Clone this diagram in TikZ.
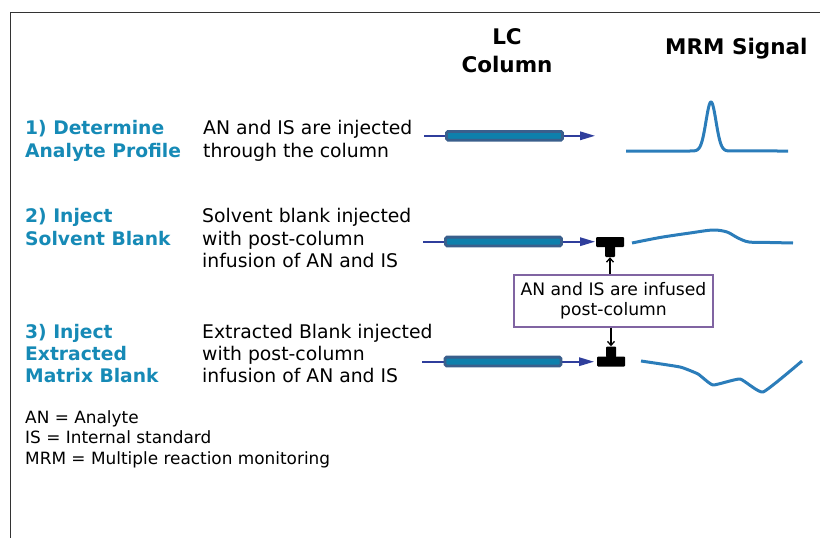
\documentclass[tikz,border=0pt]{standalone}
\usepackage{fontspec}
\setmainfont{DejaVu Sans}
\usetikzlibrary{arrows.meta}
\definecolor{headblue}{HTML}{168AB6}
\definecolor{sigblue}{HTML}{2B7DBA}
\definecolor{colouter}{HTML}{3A5F8C}
\definecolor{colinner}{HTML}{0E80AC}
\definecolor{flowblue}{HTML}{2F3E9C}
\definecolor{boxpurple}{HTML}{8064A2}
\definecolor{framegray}{HTML}{333333}
\tikzset{
  heading/.style={anchor=base west, inner sep=0pt, align=left, text=headblue,
    font=\fontsize{18.7}{22.2}\selectfont\bfseries},
  desc/.style={anchor=base west, inner sep=0pt, align=left, text=black,
    font=\fontsize{18.8}{22.2}\selectfont},
  legend/.style={anchor=base west, inner sep=0pt, align=left, text=black,
    font=\fontsize{16.9}{20.5}\selectfont},
  colhead/.style={anchor=base, inner sep=0pt, align=center,
    font=\fontsize{21.5}{27.7}\selectfont\bfseries},
  lccol/.style={draw=colouter, fill=colinner, line width=2.8pt, rounded corners=1.5pt,
    minimum width=116pt, minimum height=8.8pt, inner sep=0pt},
  flow/.style={draw=flowblue, line width=1.7pt, -{Triangle[length=15pt,width=8.5pt]}},
  tpart/.style={fill=black, rounded corners=1pt, inner sep=0pt},
  infuse/.style={draw=black, line width=1.3pt, -{Straight Barb[length=4pt,width=7pt]}},
  signal/.style={draw=sigblue, line width=3pt, line join=round},
  infbox/.style={draw=boxpurple, line width=2pt, align=center, inner sep=0pt,
    minimum width=199pt, minimum height=52pt,
    font=\fontsize{17.2}{20.2}\selectfont}
}
\begin{document}
\begin{tikzpicture}[x=1pt,y=-1pt]
\useasboundingbox (0,0) rectangle (820,538);
% frame
\draw[framegray, line width=1pt] (10.5,538) -- (10.5,12.5) -- (820,12.5);

% column headers (base = last line)
\node[colhead] (lch) at (507,72.7) {LC\\Column};
\node[colhead, anchor=base west] (mrmh) at (665,54) {MRM Signal};

% headings (base = last line)
\node[heading] (h1) at (25,157) {1) Determine\\Analyte Profile};
\node[heading] (h2) at (25,245) {2) Inject\\Solvent Blank};
\node[heading] (h3) at (25,382.7) {3) Inject\\Extracted\\Matrix Blank};

% descriptions
\node[desc] (d1) at (203,157) {AN and IS are injected\\through the column};
\node[desc] (d2) at (202,267.3) {Solvent blank injected\\with post-column\\infusion of AN and IS};
\node[desc] (d3) at (202,382.7) {Extracted Blank injected\\with post-column\\infusion of AN and IS};

% legend
\node[legend] (leg) at (25,464) {AN = Analyte\\IS = Internal standard\\MRM = Multiple reaction monitoring};

% row 1
\coordinate (s1) at (424,135.8);
\coordinate (e1) at (595,135.8);
\draw[flow] (s1) -- (e1);
\node[lccol] (c1) at (504.5,135.8) {};

% row 2
\coordinate (s2) at (423,241.7);
\coordinate (e2) at (595,241.7);
\draw[flow] (s2) -- (e2);
\node[lccol] (c2) at (503.5,241.5) {};
\node[tpart, minimum width=28pt, minimum height=10pt] (t2bar) at (610,242) {};
\node[tpart, minimum width=10pt, minimum height=11pt] (t2stem) at (610,251.5) {};

% row 3
\coordinate (s3) at (422,361.7);
\coordinate (e3) at (594,361.7);
\draw[flow] (s3) -- (e3);
\node[lccol] (c3) at (503,361.5) {};
\node[tpart, minimum width=28pt, minimum height=10pt] (t3bar) at (611,361.5) {};
\node[tpart, minimum width=10pt, minimum height=11pt] (t3stem) at (611,352) {};

% infusion box
\node[infbox] (box) at (613.5,300.5) {AN and IS are infused\\post-column};
\draw[infuse] (box.north -| t2stem) -- (t2stem.south);
\draw[infuse] (box.south -| t3stem) -- (t3stem.north);

% signals
\draw[signal] (626,151) -- (690,151)
  -- plot[domain=690:732, samples=90] (\x, {151 - 49*exp(-((\x-711)*(\x-711))/50)})
  -- (788,151);
\draw[signal] plot[smooth, tension=0.5] coordinates {(632,243) (660,237.5) (690,233) (713,230) (727,232) (738,238) (749,242) (770,242.5) (793,243)};
\draw[signal] plot[smooth, tension=0.25] coordinates {(641,361) (680,367) (698,374) (713,385) (740,379) (763,392) (802,361)};
\end{tikzpicture}
\end{document}
